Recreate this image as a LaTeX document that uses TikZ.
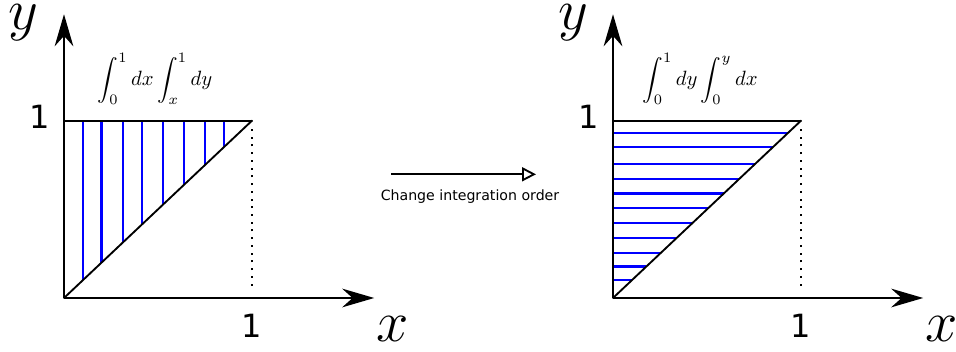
\documentclass[tikz,border=0pt]{standalone}
\usepackage{amsmath}
\usepackage{fontspec}
\usepackage{tikz}
\usetikzlibrary{arrows.meta,positioning}
\newfontfamily\labfont{DejaVu Sans}
\definecolor{cInk}{HTML}{000000}
\definecolor{cHatch}{HTML}{0000FF}
\tikzset{
  axis/.style={-{Stealth[length=24pt,width=14pt]},line width=1.6pt,color=cInk},
  edge/.style={line width=1.4pt,color=cInk,line cap=round},
  guide/.style={line width=1.5pt,dash pattern=on 1.5pt off 4.3pt,color=cInk},
  hatch/.style={line width=1.7pt,color=cHatch},
  numlbl/.style={font=\labfont\fontsize{24}{28}\selectfont,inner sep=0pt},
  varlbl/.style={font=\Huge,scale=1.75,transform shape,inner sep=0pt},
  intlbl/.style={font=\normalsize,scale=1.55,transform shape,inner sep=0pt},
  note/.style={font=\labfont\fontsize{10.6}{12}\selectfont,inner sep=0pt},
  orderarr/.style={-{Triangle[open,length=10.5pt,width=10.5pt]},line width=1.4pt,color=cInk},
}

\begin{document}
\begin{tikzpicture}[x=0.75pt,y=0.75pt]
  \useasboundingbox (0,0) rectangle (956,352);

  % dy inner, dx outer
  \begin{scope}[shift={(64,54)},x=141pt,y=133pt]
    \coordinate (lo) at (0,0);
    \coordinate (lxtip) at (1.65,0);
    \coordinate (lytip) at (0,1.6);
    \coordinate (ltop) at (0,1);
    \coordinate (lc) at (1,1);
    \foreach \u in {0.1,0.2,0.313,0.415,0.528,0.64,0.75,0.85}
      \draw[hatch] (\u,\u) -- (\u,1);
    \draw[edge] (ltop) -- (lc);
    \draw[edge] (lo) -- (lc);
    \draw[guide] (1,0.07) -- (1,0.97);
    \draw[axis] (lo) -- (lxtip);
    \draw[axis] (lo) -- (lytip);
    \node[varlbl] (ly) at (-0.215,1.55) {$y$};
    \node[varlbl] (lx) at (1.747,-0.175) {$x$};
    \node[numlbl] (lone) at (-0.13,1.023) {1};
    \node[numlbl] (lxone) at (1.0,-0.155) {1};
    \node[intlbl] (lint) at (0.484,1.237) {$\displaystyle\int_0^1 dx\int_x^1 dy$};
  \end{scope}

  \coordinate (ofrom) at (391,177.7);
  \coordinate (oto) at (536,177.7);
  \draw[orderarr] (ofrom) -- (oto);
  \node[note] (otext) at (470,155.3) {Change integration order};

  % dx inner, dy outer
  \begin{scope}[shift={(613,54)},x=141pt,y=133pt]
    \coordinate (ro) at (0,0);
    \coordinate (rxtip) at (1.65,0);
    \coordinate (rytip) at (0,1.6);
    \coordinate (rtop) at (0,1);
    \coordinate (rc) at (1,1);
    \foreach \v in {0.102,0.177,0.255,0.34,0.423,0.507,0.59,0.67,0.757,0.85,0.93}
      \draw[hatch] (0,\v) -- (\v,\v);
    \draw[edge] (rtop) -- (rc);
    \draw[edge] (ro) -- (rc);
    \draw[guide] (1,0.07) -- (1,0.97);
    \draw[axis] (ro) -- (rxtip);
    \draw[axis] (ro) -- (rytip);
    \node[varlbl] (ry) at (-0.21,1.55) {$y$};
    \node[varlbl] (rx) at (1.747,-0.175) {$x$};
    \node[numlbl] (rone) at (-0.13,1.023) {1};
    \node[numlbl] (rxone) at (1.0,-0.155) {1};
    \node[intlbl] (rint) at (0.463,1.237) {$\displaystyle\int_0^1 dy\int_0^y dx$};
  \end{scope}
\end{tikzpicture}
\end{document}
